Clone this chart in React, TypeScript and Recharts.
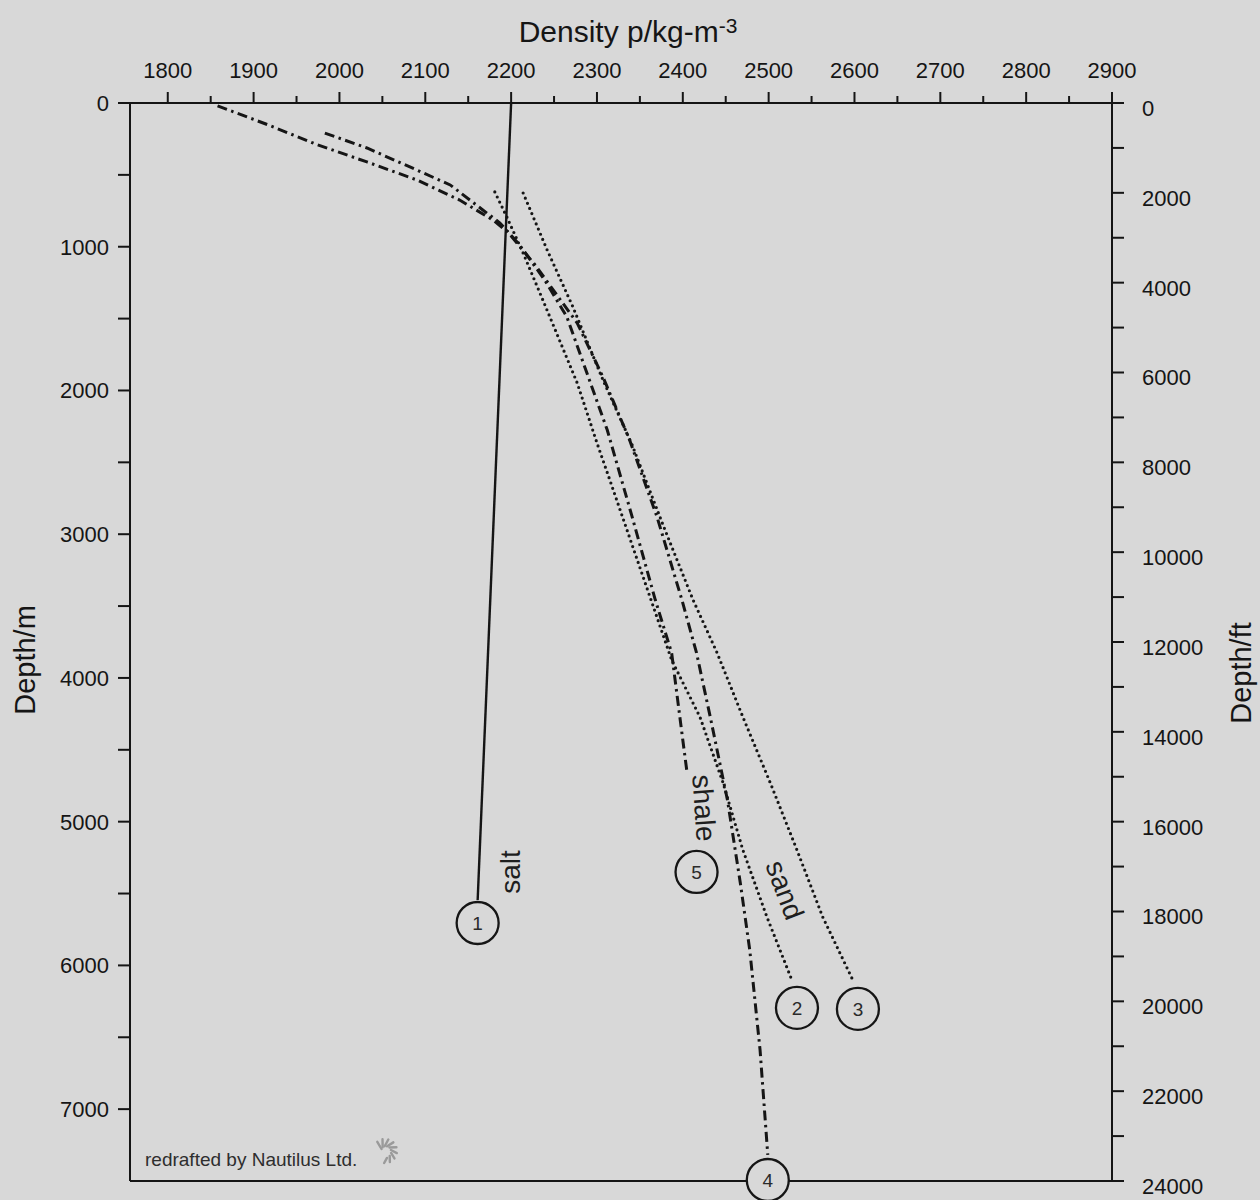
import { ScatterChart, Scatter, XAxis, YAxis } from 'recharts'

const BG = '#d8d8d8'
const INK = '#151515'
const FONT = '"Liberation Sans", Arial, Helvetica, sans-serif'

// top axis, density in kg/m3 (minor tick every 50, label every 100)
const densityTicks = [
  1800, 1850, 1900, 1950, 2000, 2050, 2100, 2150, 2200, 2250, 2300, 2350,
  2400, 2450, 2500, 2550, 2600, 2650, 2700, 2750, 2800, 2850, 2900,
]
// left axis, metres
const depthTicksM = [0, 500, 1000, 1500, 2000, 2500, 3000, 3500, 4000, 4500, 5000, 5500, 6000, 6500, 7000]
// right axis, feet
const depthTicksFt = [
  0, 1000, 2000, 3000, 4000, 5000, 6000, 7000, 8000, 9000, 10000, 11000, 12000,
  13000, 14000, 15000, 16000, 17000, 18000, 19000, 20000, 21000, 22000, 23000, 24000,
]

// curves: d = density, z = depth (m)
const saltCurve = [
  { d: 2200, z: 0 },
  { d: 2161, z: 5545 },
]

const curve4 = [
  { d: 1858, z: 20 }, { d: 1916, z: 150 }, { d: 1974, z: 290 }, { d: 2032, z: 410 },
  { d: 2090, z: 535 }, { d: 2140, z: 675 }, { d: 2179, z: 815 }, { d: 2196, z: 897 },
  { d: 2228, z: 1127 }, { d: 2277, z: 1531 }, { d: 2307, z: 1906 }, { d: 2338, z: 2344 },
  { d: 2370, z: 2880 }, { d: 2399, z: 3458 }, { d: 2416, z: 3826 }, { d: 2432, z: 4272 },
  { d: 2452, z: 4849 }, { d: 2467, z: 5426 }, { d: 2478, z: 5893 }, { d: 2490, z: 6588 },
  { d: 2499, z: 7319 },
]

const shaleCurve = [
  { d: 1983, z: 209 }, { d: 2032, z: 313 }, { d: 2090, z: 466 }, { d: 2129, z: 570 },
  { d: 2167, z: 744 }, { d: 2187, z: 835 }, { d: 2210, z: 988 }, { d: 2239, z: 1231 },
  { d: 2265, z: 1489 }, { d: 2312, z: 2275 }, { d: 2341, z: 2880 }, { d: 2368, z: 3458 },
  { d: 2387, z: 3826 }, { d: 2394, z: 4153 }, { d: 2400, z: 4432 }, { d: 2405, z: 4661 },
]

const curve2 = [
  { d: 2181, z: 619 }, { d: 2195, z: 793 }, { d: 2214, z: 1044 }, { d: 2237, z: 1371 },
  { d: 2277, z: 1948 }, { d: 2300, z: 2365 }, { d: 2315, z: 2623 }, { d: 2351, z: 3249 },
  { d: 2387, z: 3875 }, { d: 2420, z: 4272 }, { d: 2447, z: 4731 }, { d: 2470, z: 5197 },
  { d: 2498, z: 5663 }, { d: 2527, z: 6101 },
]

const curve3 = [
  { d: 2214, z: 626 }, { d: 2242, z: 1023 }, { d: 2272, z: 1419 }, { d: 2307, z: 1927 },
  { d: 2341, z: 2379 }, { d: 2377, z: 2936 }, { d: 2412, z: 3458 }, { d: 2440, z: 3826 },
  { d: 2470, z: 4272 }, { d: 2502, z: 4731 }, { d: 2533, z: 5197 }, { d: 2563, z: 5663 },
  { d: 2598, z: 6101 },
]

const markers = [
  { d: 2161, z: 5705, n: '1' },
  { d: 2533, z: 6296, n: '2' },
  { d: 2604, z: 6303, n: '3' },
  { d: 2499, z: 7493, n: '4' },
  { d: 2416, z: 5350, n: '5' },
]

const lithologyLabels = [
  { d: 2199, z: 5350, text: 'salt' },
  { d: 2425, z: 4905, text: 'shale' },
  { d: 2519, z: 5475, text: 'sand' },
]
const labelAngle: Record<string, number> = { salt: -90, shale: 86, sand: 69 }

const dotted = { stroke: INK, strokeWidth: 3.2, strokeDasharray: '0 5.6', strokeLinecap: 'round' as const }
const dashDot = { stroke: INK, strokeWidth: 3, strokeDasharray: '10 4.5 2.5 4.5' }
const solid = { stroke: INK, strokeWidth: 2.4 }

const noPoint = () => <g />

function TopTick(props: any) {
  const { x, y, payload } = props
  const major = payload.value % 100 === 0
  return (
    <g>
      <line x1={x} x2={x} y1={y} y2={y - (major ? 11 : 7)} stroke={INK} strokeWidth={2} />
      {major && (
        <text x={x} y={y - 25} textAnchor="middle" fontSize={22} fill={INK} fontFamily={FONT}>
          {payload.value}
        </text>
      )}
    </g>
  )
}

function LeftTick(props: any) {
  const { x, y, payload } = props
  return (
    <g>
      <line x1={x - 12} x2={x} y1={y} y2={y} stroke={INK} strokeWidth={2} />
      {payload.value % 1000 === 0 && (
        <text x={x - 21} y={y} dy="0.36em" textAnchor="end" fontSize={22} fill={INK} fontFamily={FONT}>
          {payload.value}
        </text>
      )}
    </g>
  )
}

function RightTick(props: any) {
  const { x, y, payload } = props
  return (
    <g>
      <line x1={x} x2={x + 12} y1={y} y2={y} stroke={INK} strokeWidth={2} />
      {payload.value % 2000 === 0 && (
        <text x={x + 30} y={y + 5} dy="0.36em" textAnchor="start" fontSize={22} fill={INK} fontFamily={FONT}>
          {payload.value}
        </text>
      )}
    </g>
  )
}

function Marker(props: any) {
  const { cx, cy, payload } = props
  return (
    <g>
      <circle cx={cx} cy={cy} r={21} fill={BG} stroke={INK} strokeWidth={2.3} />
      <text x={cx} y={cy} dy="0.36em" textAnchor="middle" fontSize={19} fill="#2a2a2a" fontFamily={FONT}>
        {payload.n}
      </text>
    </g>
  )
}

function RockLabel(props: any) {
  const { cx, cy, payload } = props
  const a = labelAngle[payload.text] ?? 90
  return (
    <text
      x={cx}
      y={cy}
      dy="0.35em"
      textAnchor="middle"
      fontSize={28}
      fill="#1e1e1e"
      fontFamily={FONT}
      transform={`rotate(${a} ${cx} ${cy})`}
    >
      {payload.text}
    </text>
  )
}

function Swirl() {
  // small grey logo next to the credit line
  const spokes = [0, 1, 2, 3, 4, 5, 6, 7, 8]
  return (
    <g transform="translate(385 1151)">
      {spokes.map((i) => {
        const a = (-150 + i * 28) * (Math.PI / 180)
        const r1 = 4 + i * 0.4
        const r2 = 12
        return (
          <line
            key={i}
            x1={Math.cos(a) * r1}
            y1={Math.sin(a) * r1}
            x2={Math.cos(a + 0.35) * r2}
            y2={Math.sin(a + 0.35) * r2}
            stroke="#9a9a9a"
            strokeWidth={2.4}
            strokeLinecap="round"
          />
        )
      })}
    </g>
  )
}

export default function App() {
  return (
    <div style={{ position: 'absolute', left: 0, top: 0, width: 1260, height: 1200, background: BG, fontFamily: FONT }}>
      <ScatterChart width={1260} height={1200} margin={{ top: 53, right: 68, bottom: 18, left: 50 }}>
        <XAxis
          xAxisId="top"
          orientation="top"
          type="number"
          dataKey="d"
          domain={[1756, 2900]}
          ticks={densityTicks}
          interval={0}
          height={50}
          tickSize={0}
          tickMargin={0}
          tickLine={false}
          tick={<TopTick />}
          axisLine={{ stroke: INK, strokeWidth: 2 }}
        />
        <XAxis
          xAxisId="bottom"
          orientation="bottom"
          type="number"
          dataKey="d"
          domain={[1756, 2900]}
          height={1}
          tick={false}
          tickLine={false}
          axisLine={{ stroke: INK, strokeWidth: 2 }}
        />
        <YAxis
          yAxisId="m"
          orientation="left"
          type="number"
          dataKey="z"
          reversed
          domain={[0, 7500]}
          ticks={depthTicksM}
          interval={0}
          width={80}
          tickSize={0}
          tickMargin={0}
          tickLine={false}
          tick={<LeftTick />}
          axisLine={{ stroke: INK, strokeWidth: 2 }}
        />
        <YAxis
          yAxisId="ft"
          orientation="right"
          type="number"
          dataKey="z"
          reversed
          domain={[0, 24000]}
          allowDataOverflow
          ticks={depthTicksFt}
          interval={0}
          width={80}
          tickSize={0}
          tickMargin={0}
          tickLine={false}
          tick={<RightTick />}
          axisLine={{ stroke: INK, strokeWidth: 2 }}
        />

        <Scatter xAxisId="top" yAxisId="m" data={saltCurve} line={solid} shape={noPoint} isAnimationActive={false} />
        <Scatter xAxisId="top" yAxisId="m" data={curve4} line={dashDot} shape={noPoint} isAnimationActive={false} />
        <Scatter xAxisId="top" yAxisId="m" data={shaleCurve} line={dashDot} shape={noPoint} isAnimationActive={false} />
        <Scatter xAxisId="top" yAxisId="m" data={curve2} line={dotted} shape={noPoint} isAnimationActive={false} />
        <Scatter xAxisId="top" yAxisId="m" data={curve3} line={dotted} shape={noPoint} isAnimationActive={false} />
        <Scatter xAxisId="top" yAxisId="m" data={lithologyLabels} shape={RockLabel} isAnimationActive={false} />
        <Scatter xAxisId="top" yAxisId="m" data={markers} shape={Marker} isAnimationActive={false} />
      </ScatterChart>

      <svg width={1260} height={1200} style={{ position: 'absolute', left: 0, top: 0, pointerEvents: 'none' }}>
        <text x={628} y={42} textAnchor="middle" fontSize={30} fill={INK} fontFamily={FONT}>
          Density p/kg-m<tspan fontSize={21} dy={-9}>-3</tspan>
        </text>
        <text x={35} y={660} textAnchor="middle" fontSize={29} fill={INK} fontFamily={FONT} transform="rotate(-90 35 660)">
          Depth/m
        </text>
        <text x={1251} y={673} textAnchor="middle" fontSize={29} fill={INK} fontFamily={FONT} transform="rotate(-90 1251 673)">
          Depth/ft
        </text>
        <text x={145} y={1166} fontSize={19} fill="#2e2e2e" fontFamily={FONT}>
          redrafted by Nautilus Ltd.
        </text>
        <Swirl />
      </svg>
    </div>
  )
}
